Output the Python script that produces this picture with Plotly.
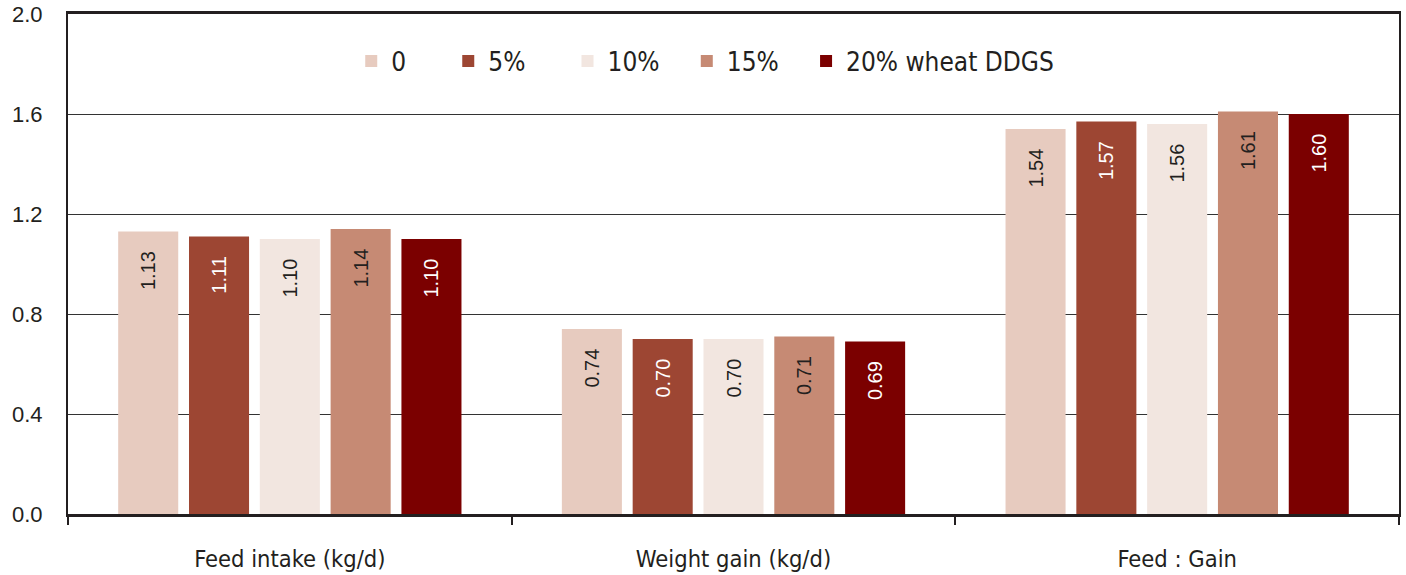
import plotly.graph_objects as go

categories = ["Feed intake (kg/d)", "Weight gain (kg/d)", "Feed : Gain"]
series_names = ["0", "5%", "10%", "15%", "20% wheat DDGS"]
values_0 = [1.13, 0.74, 1.54]
values_5 = [1.11, 0.70, 1.57]
values_10 = [1.10, 0.70, 1.56]
values_15 = [1.14, 0.71, 1.61]
values_20 = [1.10, 0.69, 1.60]
y_ticks = [0.0, 0.4, 0.8, 1.2, 1.6, 2.0]

series_values = [values_0, values_5, values_10, values_15, values_20]
colors = ["#e7cbbf", "#9d4633", "#f2e6e0", "#c68a74", "#7b0000"]
text_colors = ["#231f20", "#ffffff", "#231f20", "#231f20", "#ffffff"]

COND = "DejaVu Sans Condensed, Liberation Sans Narrow, sans-serif"
NB = "\u00a0"
PAD = NB * 3
legend_pad = [NB * 5, NB * 5, NB * 3, NB * 3, ""]

fig = go.Figure()
for name, vals, c, tc, lp in zip(series_names, series_values, colors, text_colors, legend_pad):
    fig.add_trace(go.Bar(
        x=categories, y=vals, name=name + lp,
        marker=dict(color=c, line=dict(width=0)),
        text=[f"{v:.2f}" + PAD for v in vals],
        textposition="inside", insidetextanchor="end", textangle=-90,
        textfont=dict(family="Liberation Sans, Arial, sans-serif", size=20, color=tc),
        constraintext="none",
        hoverinfo="skip",
    ))

fig.update_layout(
    width=1406, height=575,
    margin=dict(l=68, r=7, t=14, b=61, autoexpand=False),
    paper_bgcolor="white", plot_bgcolor="white",
    barmode="group", bargap=0.202, bargroupgap=0.152,
    showlegend=True,
    legend=dict(
        orientation="h", x=0.2128, xanchor="left", y=0.906, yanchor="middle",
        font=dict(family=COND, size=26, color="#231f20"),
        bgcolor="rgba(255,255,255,0)", traceorder="normal",
    ),
    uniformtext=dict(minsize=20, mode="show"),
)

fig.update_xaxes(
    type="category", tickson="boundaries", ticks="outside", ticklen=8,
    tickcolor="#231f20", tickwidth=2,
    showline=True, linecolor="#231f20", linewidth=3, mirror=True,
    showgrid=False, automargin=False,
    tickfont=dict(family=COND, size=23.5, color="#231f20"),
    ticklabelstandoff=22,
)
fig.update_yaxes(
    range=[0, 2.0], tickvals=y_ticks, tickformat=".1f",
    showgrid=True, gridcolor="#333333", gridwidth=1,
    showline=True, linecolor="#231f20", linewidth=2, mirror=True,
    ticks="", zeroline=False, automargin=False,
    tickfont=dict(family="Liberation Sans, Arial, sans-serif", size=22, color="#231f20"),
    ticklabelstandoff=19,
)

fig.write_html("out.html", config={"displayModeBar": False},
               post_script="document.body.style.margin='0px';")
